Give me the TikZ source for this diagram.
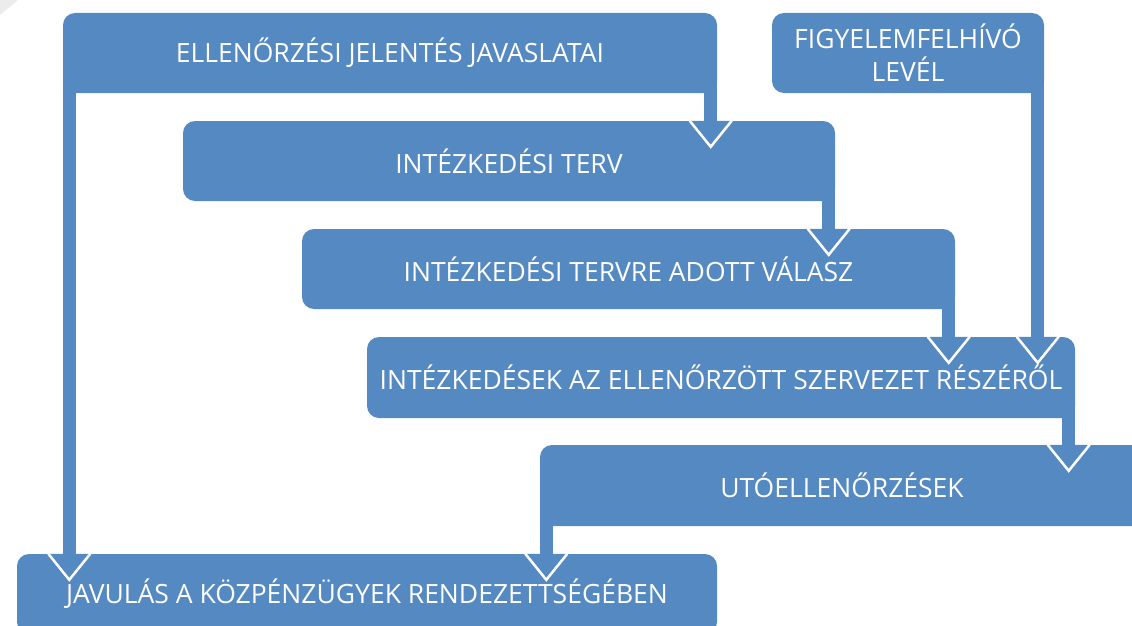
\documentclass[tikz,border=0pt]{standalone}
\usepackage{fontspec}
\setmainfont{Open Sans}
\usetikzlibrary{calc}
\definecolor{stepblue}{RGB}{85,137,193}
\definecolor{cornergray}{RGB}{236,236,236}
\tikzset{
  stage/.style={fill=stepblue, rounded corners=12pt, text=white, inner sep=0pt,
    align=center, font=\fontsize{26.5}{33}\selectfont},
  linkbar/.style={draw=stepblue, line width=13pt},
  headfill/.style={fill=stepblue},
  headedge/.style={draw=white, line width=2.5pt},
}
% #1: centre of the bar on the source box's lower edge, #2: target node
\newcommand{\stagelink}[2]{%
  \coordinate (lk-top) at (#1 |- #2.north);
  \draw[linkbar] ($(#1)+(0,-12)$) -- (lk-top);
  \fill[headfill] ($(lk-top)+(-21,0)$) -- ($(lk-top)+(0,26)$) -- ($(lk-top)+(21,0)$) -- cycle;
  \draw[headedge] ($(lk-top)+(-21,0)$) -- ($(lk-top)+(0,26)$) -- ($(lk-top)+(21,0)$);
}
\begin{document}
\begin{tikzpicture}[x=1pt,y=-1pt]
\useasboundingbox (0,0) rectangle (1132,626);
\clip (0,0) rectangle (1132,626);
\fill[white] (0,0) rectangle (1132,626);
\fill[cornergray] (0,0) -- (18,0) -- (0,15) -- cycle;

% stages
\node[stage, minimum width=654pt, minimum height=80pt] (b1) at (390,53) {ELLENŐRZÉSI JELENTÉS JAVASLATAI};
\node[stage, minimum width=272pt, minimum height=80pt] (fig) at (908,53) {FIGYELEMFELHÍVÓ\\LEVÉL};
\node[stage, minimum width=652pt, minimum height=80pt] (b2) at (509,161) {INTÉZKEDÉSI TERV};
\node[stage, minimum width=653pt, minimum height=80pt] (b3) at (628.5,269) {INTÉZKEDÉSI TERVRE ADOTT VÁLASZ};
\node[stage, minimum width=708pt, minimum height=81pt] (b4) at (721,377.5) {INTÉZKEDÉSEK AZ ELLENŐRZÖTT SZERVEZET RÉSZÉRŐL};
\node[stage, minimum width=604pt, minimum height=81pt] (b5) at (842,485.5) {UTÓELLENŐRZÉSEK};
\node[stage, minimum width=700pt, minimum height=80pt] (b6) at (367,594) {JAVULÁS A KÖZPÉNZÜGYEK RENDEZETTSÉGÉBEN};

% bar start points
\coordinate (s1l) at ($(b1.south west)+(6.5,0)$);
\coordinate (s1r) at ($(b1.south east)+(-6.5,0)$);
\coordinate (sf)  at ($(fig.south east)+(-6.5,0)$);
\coordinate (s2)  at ($(b2.south east)+(-6.5,0)$);
\coordinate (s3)  at ($(b3.south east)+(-6.5,0)$);
\coordinate (s4)  at ($(b4.south east)+(-6.5,0)$);
\coordinate (s5)  at ($(b5.south west)+(6.5,0)$);

% connectors
\stagelink{s1r}{b2}
\stagelink{s2}{b3}
\stagelink{s3}{b4}
\stagelink{sf}{b4}
\stagelink{s4}{b5}
\stagelink{s5}{b6}
\stagelink{s1l}{b6}
\end{tikzpicture}
\end{document}
